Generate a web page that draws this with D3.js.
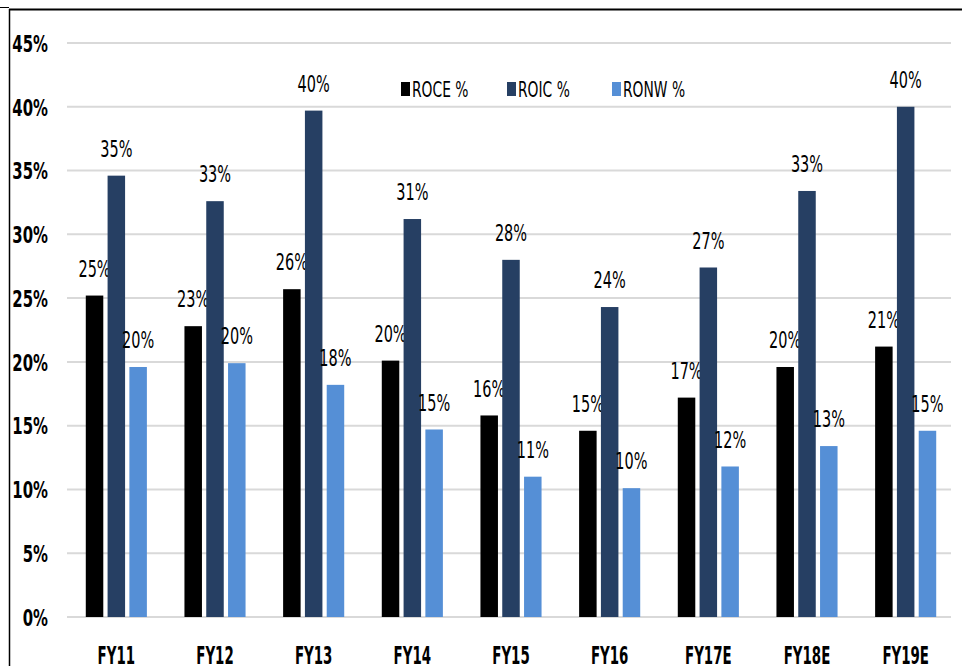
<!DOCTYPE html>
<html><head><meta charset="utf-8">
<script src="https://cdn.jsdelivr.net/npm/d3@7"></script>
<style>
html,body{margin:0;padding:0;background:#fff;}
svg{display:block;}
text{font-family:"DejaVu Sans Condensed","DejaVu Sans",sans-serif;}
</style></head>
<body>
<script>
const categories = ["FY11","FY12","FY13","FY14","FY15","FY16","FY17E","FY18E","FY19E"];
const seriesNames = ["ROCE %","ROIC %","RONW %"];
const roce = [25.2, 22.8, 25.7, 20.1, 15.8, 14.6, 17.2, 19.6, 21.2];
const roic = [34.6, 32.6, 39.7, 31.2, 28.0, 24.3, 27.4, 33.4, 40.0];
const ronw = [19.6, 19.9, 18.2, 14.7, 11.0, 10.1, 11.8, 13.4, 14.6];
const labelsRoce = ["25%","23%","26%","20%","16%","15%","17%","20%","21%"];
const labelsRoic = ["35%","33%","40%","31%","28%","24%","27%","33%","40%"];
const labelsRonw = ["20%","20%","18%","15%","11%","10%","12%","13%","15%"];
const yTicks = [0,5,10,15,20,25,30,35,40,45];
const colors = ["#000000","#263f63","#558fd6"];

const W = 962, H = 666;
const svg = d3.select("body").append("svg").attr("width", W).attr("height", H);

// frame
svg.append("line").attr("x1",0).attr("x2",9).attr("y1",7.5).attr("y2",7.5).attr("stroke","#000").attr("stroke-width",1);
svg.append("line").attr("x1",9).attr("x2",W).attr("y1",9.5).attr("y2",9.5).attr("stroke","#000").attr("stroke-width",2);
svg.append("line").attr("x1",9.5).attr("x2",9.5).attr("y1",9).attr("y2",H).attr("stroke","#000").attr("stroke-width",1.5);

const x = d3.scaleBand().domain(categories).range([67, 955]).paddingInner(0).paddingOuter(0);
const y = d3.scaleLinear().domain([0,45]).range([617, 43]);
const barW = 17.5, gap = 4.3;

// gridlines
svg.append("g").selectAll("line").data(yTicks).join("line")
  .attr("x1",67).attr("x2",951)
  .attr("y1",d=>y(d)).attr("y2",d=>y(d))
  .attr("stroke","#d9d9d9").attr("stroke-width",2);

// y axis labels (condensed horizontally)
const sxY = 0.72;
const yAxis = d3.axisLeft(y).tickValues(yTicks).tickFormat(d=>d+"%").tickSize(0).tickPadding(0);
const ga = svg.append("g").attr("transform","translate(48,0)").call(yAxis);
ga.select(".domain").remove();
ga.selectAll("text").attr("font-size",23).attr("font-weight","bold").attr("fill","#000")
  .attr("font-family",'"DejaVu Sans","DejaVu Sans Condensed",sans-serif')
  .attr("x",0).attr("dy","0.36em").attr("transform",`scale(${sxY},1)`);

// x axis labels
const sxX = 0.62;
const xAxis = d3.axisBottom(x).tickSize(0).tickPadding(0);
const gx = svg.append("g").attr("transform","translate(0,664)").call(xAxis);
gx.select(".domain").remove();
gx.selectAll("text").attr("font-size",24).attr("font-weight","bold").attr("fill","#000")
  .attr("font-family",'"DejaVu Sans","DejaVu Sans Condensed",sans-serif')
  .attr("y",0).attr("dy","0").attr("transform",`scale(${sxX},1)`);

const series = [roce, roic, ronw];
const labels = [labelsRoce, labelsRoic, labelsRonw];
const sxL = 0.7;
series.forEach((vals, si) => {
  const off = (si - 1) * (barW + gap) - barW/2;
  svg.append("g").selectAll("rect").data(categories).join("rect")
    .attr("x", (c)=> x(c) + x.bandwidth()/2 + off)
    .attr("width", barW)
    .attr("y", (c,i)=> y(vals[i]))
    .attr("height", (c,i)=> y(0) - y(vals[i]))
    .attr("fill", colors[si]);
  svg.append("g").selectAll("text").data(categories).join("text")
    .attr("transform", (c,i)=> `translate(${x(c) + x.bandwidth()/2 + off + barW/2},${y(vals[i]) - 27}) scale(${sxL},1)`)
    .attr("dy","0.36em")
    .attr("text-anchor","middle")
    .attr("font-size",23)
    .attr("fill","#000")
    .text((c,i)=> labels[si][i]);
});

// legend
const legendX = [401, 507, 612];
const lg = svg.append("g");
seriesNames.forEach((n, i) => {
  lg.append("rect").attr("x", legendX[i]).attr("y", 82).attr("width", 9).attr("height", 14).attr("fill", colors[i]);
  lg.append("text").attr("transform", `translate(${legendX[i] + 11},89) scale(0.7,1)`).attr("dy","0.36em")
    .attr("font-size",22).attr("fill","#000").text(n);
});
</script>
</body></html>
